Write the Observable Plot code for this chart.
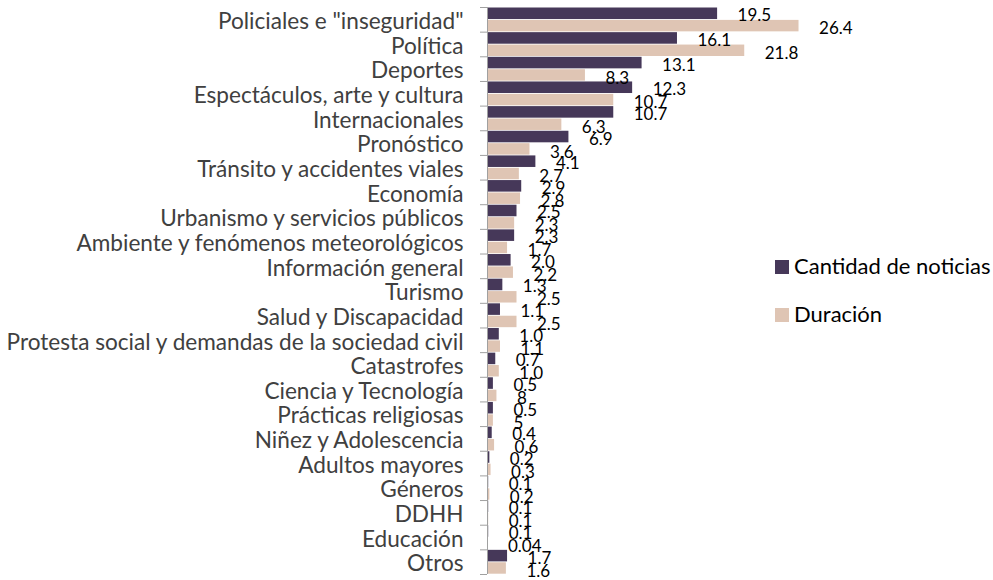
<!DOCTYPE html>
<html><head><meta charset="utf-8">
<script src="https://cdn.jsdelivr.net/npm/d3@7"></script>
<script src="https://cdn.jsdelivr.net/npm/@observablehq/plot@0.6"></script>
<style>
body{margin:0;background:#fff;}
#wrap{position:relative;width:993px;height:580px;font-family:Lato,sans-serif;}
.sw{position:absolute;width:14px;height:14px;}
.lt{position:absolute;font-size:22px;line-height:22px;color:#000;white-space:nowrap;}
</style></head><body><div id="wrap"></div>
<script>
const categories = [
  "Policiales e \"inseguridad\"", "Política", "Deportes", "Espectáculos, arte y cultura",
  "Internacionales", "Pronóstico", "Tránsito y accidentes viales", "Economía",
  "Urbanismo y servicios públicos", "Ambiente y fenómenos meteorológicos", "Información general",
  "Turismo", "Salud y Discapacidad", "Protesta social y demandas de la sociedad civil",
  "Catastrofes", "Ciencia y Tecnología", "Prácticas religiosas", "Niñez y Adolescencia",
  "Adultos mayores", "Géneros", "DDHH", "Educación", "Otros"
];
const cantidad = [19.5, 16.1, 13.1, 12.3, 10.7, 6.9, 4.1, 2.9, 2.5, 2.3, 2.0, 1.3, 1.1, 1.0, 0.7, 0.5, 0.5, 0.4, 0.2, 0.1, 0.1, 0.1, 1.7];
const duracion = [26.4, 21.8, 8.3, 10.7, 6.3, 3.6, 2.7, 2.8, 2.3, 1.7, 2.2, 2.5, 2.5, 1.1, 1.0, 0.8, 0.5, 0.6, 0.3, 0.2, 0.1, 0.04, 1.6];
const cantidadLabels = ["19.5","16.1","13.1","12.3","10.7","6.9","4.1","2.9","2.5","2.3","2.0","1.3","1.1","1.0","0.7","0.5","0.5","0.4","0.2","0.1","0.1","0.1","1.7"];
const duracionLabels = ["26.4","21.8","8.3","10.7","6.3","3.6","2.7","2.8","2.3","1.7","2.2","2.5","2.5","1.1","1.0","8","5","0.6","0.3","0.2","0.1","0.04","1.6"];
const seriesNames = ["Cantidad de noticias", "Duración"];
const seriesColors = ["#463859", "#dfc5b4"];

const rows = categories.map((c, i) => ({
  category: c, cantidad: cantidad[i], duracion: duracion[i],
  lc: cantidadLabels[i], ld: duracionLabels[i]
}));

const H = 580, MT = 7, MB = 6;
const bw = (H - MT - MB) / categories.length;
const axisGray = "#a0a0a0";

const chart = Plot.plot({
  width: 993, height: H,
  marginLeft: 487, marginRight: 152, marginTop: MT, marginBottom: MB,
  style: {fontFamily: "Lato, sans-serif", background: "white", overflow: "visible"},
  x: {domain: [0, 30], axis: null},
  y: {domain: categories, padding: 0, round: false},
  marks: [
    Plot.barX(rows, {x: "cantidad", y: "category", fill: seriesColors[0], insetTop: 0.5, insetBottom: 12.6}),
    Plot.barX(rows, {x: "duracion", y: "category", fill: seriesColors[1], insetTop: 12.9, insetBottom: 0.3}),
    Plot.ruleX([0], {stroke: axisGray}),
    Plot.axisY({tickSize: 7, fill: "none", stroke: axisGray, dy: -bw / 2, label: null}),
    Plot.axisY([categories[categories.length - 1]], {tickSize: 7, fill: "none", stroke: axisGray, dy: bw / 2, label: null}),
    Plot.axisY({tickSize: 0, tickPadding: 24, fill: "#404040", fontSize: 22.6, dy: 2, label: null}),
    Plot.text(rows, {x: "cantidad", y: "category", text: "lc", textAnchor: "start", dx: 20, dy: -4, fontSize: 17, fill: "#000"}),
    Plot.text(rows, {x: "duracion", y: "category", text: "ld", textAnchor: "start", dx: 20, dy: 9, fontSize: 17, fill: "#000"})
  ]
});
const wrap = document.getElementById("wrap");
wrap.appendChild(chart);

const legTops = [260, 308];
seriesNames.forEach((name, i) => {
  const sw = document.createElement("div");
  sw.className = "sw";
  sw.style.left = "775px";
  sw.style.top = legTops[i] + "px";
  sw.style.background = seriesColors[i];
  wrap.appendChild(sw);
  const t = document.createElement("div");
  t.className = "lt";
  t.style.left = "794px";
  t.style.top = (legTops[i] - 5) + "px";
  t.textContent = name;
  wrap.appendChild(t);
});
</script>
</body></html>
